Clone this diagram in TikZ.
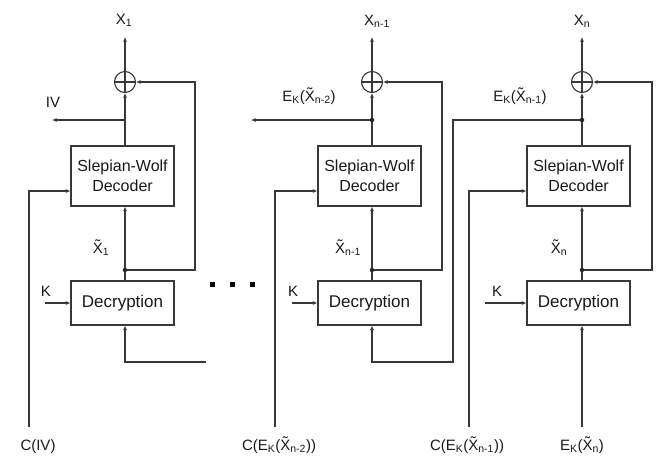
\documentclass[tikz,border=0pt]{standalone}
\usepackage{fontspec}
\setmainfont{Liberation Sans}
\usetikzlibrary{calc,arrows.meta}
\newcommand{\tX}{\~{X}}
\newcommand{\subs}[1]{\textsubscript{#1}}
\begin{document}
\begin{tikzpicture}[x=1pt,y=-1pt,line width=1.1pt,color=black!78,
  >={Latex[length=4.5pt,width=4pt]},
  swbox/.style={draw,rectangle,minimum width=103pt,minimum height=60pt,inner sep=0pt,align=center,
    text=black!90,font=\fontsize{16}{20}\selectfont},
  decbox/.style={draw,rectangle,minimum width=103pt,minimum height=44pt,inner sep=0pt,
    text=black!90,font=\fontsize{17}{20}\selectfont},
  xorc/.style={draw,circle,minimum size=21pt,inner sep=0pt},
  lab/.style={anchor=base,inner sep=0pt,text=black!90,font=\fontsize{15}{18}\selectfont},
  jdot/.style={fill=black!85,draw=none,circle,minimum size=4.5pt,inner sep=0pt},
  sqdot/.style={fill=black,draw=none,rectangle,minimum size=5pt,inner sep=0pt}]
\useasboundingbox (0,0) rectangle (664,459);

% ---------- column 1 ----------
\node[xorc] (xa) at (125,82) {};
\node[swbox] (swa) at (122.5,176) {Slepian-Wolf\\Decoder};
\node[decbox] (deca) at (122.5,303) {Decryption};
\coordinate (j1a) at (125,120);
\coordinate (j2a) at (125,270);
\coordinate (outa) at (125,37);
\coordinate (fba) at (195,82);
\coordinate (cina) at (29,427);
\coordinate (ka) at (45,303);
\coordinate (ba) at (206,362);
\coordinate (iva) at (52,120);

\draw[->] (xa.north) -- (outa);
\draw (xa.north) -- (xa.south) (xa.west) -- (xa.east);
\draw[->] (j1a |- swa.north) -- (xa.south);
\draw[->] (j1a) -- (iva);
\draw[->] (j2a) -- (j2a |- swa.south);
\draw[->] (j2a |- deca.north) -- (j2a) -| (fba) -- (xa.east);
\draw[->] (cina) |- ($(swa.west)+(0,15)$);
\draw[->] (ka) -- (deca.west);
\draw[->] (ba) -| (j2a |- deca.south);
\node[jdot] (da2) at (j2a) {};

% ---------- column 2 ----------
\node[xorc] (xb) at (372,82) {};
\node[swbox] (swb) at (369.5,176) {Slepian-Wolf\\Decoder};
\node[decbox] (decb) at (369.5,303) {Decryption};
\coordinate (j1b) at (372,120);
\coordinate (j2b) at (372,270);
\coordinate (outb) at (372,37);
\coordinate (fbb) at (442,82);
\coordinate (cinb) at (275,427);
\coordinate (kb) at (292,303);
\coordinate (eb) at (251,120);
\coordinate (bendb) at (453,362);

\draw[->] (xb.north) -- (outb);
\draw (xb.north) -- (xb.south) (xb.west) -- (xb.east);
\draw[->] (j1b |- swb.north) -- (xb.south);
\draw[->] (j1b) -- (eb);
\draw[->] (j2b) -- (j2b |- swb.south);
\draw[->] (j2b |- decb.north) -- (j2b) -| (fbb) -- (xb.east);
\draw[->] (cinb) |- ($(swb.west)+(0,15)$);
\draw[->] (kb) -- (decb.west);
\node[jdot] (db1) at (j1b) {};
\node[jdot] (db2) at (j2b) {};

% ---------- column 3 ----------
\node[xorc] (xc) at (582,82) {};
\node[swbox] (swc) at (578.5,176) {Slepian-Wolf\\Decoder};
\node[decbox] (decc) at (578.5,303) {Decryption};
\coordinate (j1c) at (582,120);
\coordinate (j2c) at (582,270);
\coordinate (outc) at (582,37);
\coordinate (fbc) at (652,82);
\coordinate (cinc) at (469,427);
\coordinate (kc) at (485,303);
\coordinate (ec) at (582,427);

\draw[->] (xc.north) -- (outc);
\draw (xc.north) -- (xc.south) (xc.west) -- (xc.east);
\draw[->] (j1c |- swc.north) -- (xc.south);
\draw[->] (j1c) -| (bendb) -| (j2b |- decb.south);
\draw[->] (j2c) -- (j2c |- swc.south);
\draw[->] (j2c |- decc.north) -- (j2c) -| (fbc) -- (xc.east);
\draw[->] (cinc) |- ($(swc.west)+(0,15)$);
\draw[->] (kc) -- (decc.west);
\draw[->] (ec) -- (ec |- decc.south);
\node[jdot] (dc1) at (j1c) {};
\node[jdot] (dc2) at (j2c) {};

% ---------- ellipsis ----------
\node[sqdot] (s1) at (212,284) {};
\node[sqdot] (s2) at (232,284) {};
\node[sqdot] (s3) at (252,284) {};

% ---------- labels ----------
\node[lab] (lxa) at (124,24) {X\subs{1}};
\node[lab] (lxb) at (377,25) {X\subs{n-1}};
\node[lab] (lxc) at (582,25) {X\subs{n}};
\node[lab] (liv) at (53,107) {IV};
\node[lab] (leb) at (309,101) {E\subs{K}(\tX\subs{n-2})};
\node[lab] (lec) at (520,101) {E\subs{K}(\tX\subs{n-1})};
\node[lab] (lta) at (101,253) {\tX\subs{1}};
\node[lab] (ltb) at (348,253) {\tX\subs{n-1}};
\node[lab] (ltc) at (559,253) {\tX\subs{n}};
\node[lab] (lka) at (46,296) {K};
\node[lab] (lkb) at (293,296) {K};
\node[lab] (lkc) at (497,296) {K};
\node[lab] (lca) at (38,450) {C(IV)};
\node[lab] (lcb) at (279,450) {C(E\subs{K}(\tX\subs{n-2}))};
\node[lab] (lcc) at (467,450) {C(E\subs{K}(\tX\subs{n-1}))};
\node[lab] (lcd) at (582,450) {E\subs{K}(\tX\subs{n})};
\end{tikzpicture}
\end{document}
